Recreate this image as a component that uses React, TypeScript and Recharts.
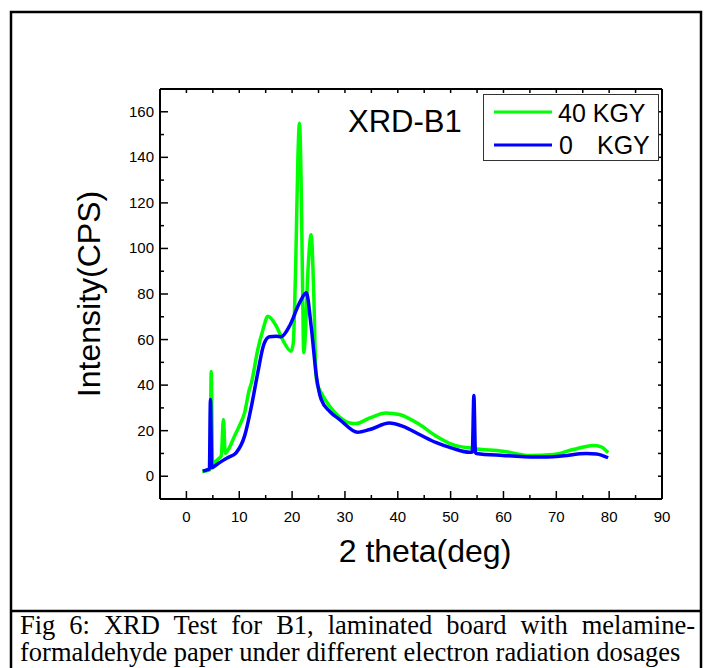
import { LineChart, Line, XAxis, YAxis } from "recharts";

// values (2 theta in deg, intensity in CPS)
const greenX = [3.0, 4.0, 4.45, 4.7, 4.95, 5.3, 6.0, 6.6, 7.0, 7.35, 8.0, 9.1, 10.0, 11.0, 11.9, 12.3, 13.5, 14.5, 15.4, 17.0, 18.2, 19.8, 20.2, 20.7, 21.1, 21.4, 21.7, 22.0, 22.2, 22.5, 23.0, 23.6, 24.1, 24.5, 24.8, 25.2, 27.1, 29.0, 30.9, 32.1, 34.7, 37.8, 40.3, 44.1, 47.3, 50.4, 54.2, 59.9, 65.0, 69.4, 73.2, 77.0, 78.5, 79.8];
const greenY = [2.2, 2.5, 3, 46, 5, 6, 7.5, 9, 24.9, 10, 12, 17.6, 22, 27.8, 38, 41, 55.6, 64.4, 70.2, 65.9, 60, 54.9, 58, 95, 140, 155, 130, 80, 54.2, 62, 90, 106, 80, 45, 40, 38, 30.7, 26, 23.4, 23.1, 25.6, 27.8, 27.1, 22.7, 17.6, 13.9, 12.2, 11, 9.1, 9.5, 11.7, 13.5, 12.9, 10.3];

const blueX = [3.1, 4.0, 4.35, 4.55, 4.8, 5.3, 6.5, 7.8, 9.4, 11.0, 12.3, 13.5, 14.6, 15.7, 17.0, 17.9, 19.5, 21.4, 22.7, 23.6, 24.6, 25.5, 27.1, 29.0, 32.4, 34.7, 38.4, 41.0, 44.1, 47.3, 50.4, 53.6, 54.1, 54.4, 54.7, 54.9, 59.9, 66.2, 70.6, 75.7, 77.6, 79.8];
const blueY = [2.2, 2.9, 3.2, 33.7, 3.7, 4.4, 6.3, 8.1, 10.3, 17.6, 30.7, 45.4, 57.5, 61.2, 61.5, 61.2, 65.9, 76.1, 80.5, 65.9, 43.9, 33.7, 28.5, 24.9, 19.3, 20.5, 23.4, 21.9, 18.3, 14.7, 12.2, 10.5, 10.6, 35.4, 10.3, 10, 9.1, 8.4, 8.8, 10, 9.8, 8.1];

const xTicks = [0, 5, 10, 15, 20, 25, 30, 35, 40, 45, 50, 55, 60, 65, 70, 75, 80, 85, 90];
const yTicks = [0, 10, 20, 30, 40, 50, 60, 70, 80, 90, 100, 110, 120, 130, 140, 150, 160];

const greenData = greenX.map((x, i) => ({ x, y: greenY[i] }));
const blueData = blueX.map((x, i) => ({ x, y: blueY[i] }));

const SANS = "'Liberation Sans', Arial, sans-serif";

const BottomTick = (props: any) => {
  const { x, y, payload } = props;
  const major = payload.value % 10 === 0;
  return (
    <g>
      <line x1={x} x2={x} y1={y} y2={y - (major ? 8 : 4)} stroke="#000" strokeWidth={1.5} />
      {major && (
        <text x={x} y={y + 23} textAnchor="middle" fontSize={15} fontFamily={SANS} fill="#000">
          {payload.value}
        </text>
      )}
    </g>
  );
};

const LeftTick = (props: any) => {
  const { x, y, payload } = props;
  const major = payload.value % 20 === 0;
  return (
    <g>
      <line x1={x} x2={x + (major ? 8 : 4)} y1={y} y2={y} stroke="#000" strokeWidth={1.5} />
      {major && (
        <text x={x - 6} y={y + 5} textAnchor="end" fontSize={15} fontFamily={SANS} fill="#000">
          {payload.value}
        </text>
      )}
    </g>
  );
};

const TopTick = (props: any) => {
  const { x, y } = props;
  return <line x1={x} x2={x} y1={y} y2={y + 4} stroke="#000" strokeWidth={1.5} />;
};

const RightTick = (props: any) => {
  const { x, y } = props;
  return <line x1={x} x2={x - 4} y1={y} y2={y} stroke="#000" strokeWidth={1.5} />;
};

export default function App() {
  return (
    <div style={{ position: "absolute", left: 0, top: 0, width: 712, height: 668, background: "#fff", overflow: "hidden" }}>
      <LineChart width={712} height={560} margin={{ top: 79, left: 100, right: 40, bottom: 31 }}>
        <XAxis
          xAxisId="b"
          dataKey="x"
          type="number"
          domain={[-5, 90]}
          ticks={xTicks}
          interval={0}
          height={30}
          tickSize={0}
          tickMargin={0}
          tickLine={false}
          axisLine={{ stroke: "#000", strokeWidth: 2 }}
          tick={<BottomTick />}
          allowDataOverflow
        />
        <XAxis
          xAxisId="t"
          dataKey="x"
          orientation="top"
          type="number"
          domain={[-5, 90]}
          ticks={xTicks}
          interval={0}
          height={10}
          tickSize={0}
          tickMargin={0}
          tickLine={false}
          axisLine={{ stroke: "#000", strokeWidth: 2 }}
          tick={<TopTick />}
          allowDataOverflow
        />
        <YAxis
          yAxisId="l"
          type="number"
          domain={[-10, 170]}
          ticks={yTicks}
          interval={0}
          width={60}
          tickSize={0}
          tickMargin={0}
          tickLine={false}
          axisLine={{ stroke: "#000", strokeWidth: 2 }}
          tick={<LeftTick />}
          allowDataOverflow
        />
        <YAxis
          yAxisId="r"
          orientation="right"
          type="number"
          domain={[-10, 170]}
          ticks={yTicks}
          interval={0}
          width={10}
          tickSize={0}
          tickMargin={0}
          tickLine={false}
          axisLine={{ stroke: "#000", strokeWidth: 2 }}
          tick={<RightTick />}
          allowDataOverflow
        />
        {/* invisible series so the top and right frame axes are active */}
        <Line
          xAxisId="t"
          yAxisId="r"
          data={greenData}
          dataKey="y"
          stroke="none"
          dot={false}
          activeDot={false}
          legendType="none"
          isAnimationActive={false}
        />
        <Line
          xAxisId="b"
          yAxisId="l"
          data={greenData}
          dataKey="y"
          type="monotone"
          stroke="#00ff00"
          strokeWidth={3.5}
          dot={false}
          isAnimationActive={false}
        />
        <Line
          xAxisId="b"
          yAxisId="l"
          data={blueData}
          dataKey="y"
          type="monotone"
          stroke="#0000ff"
          strokeWidth={3.5}
          dot={false}
          isAnimationActive={false}
        />
      </LineChart>

      <svg width={712} height={668} style={{ position: "absolute", left: 0, top: 0, pointerEvents: "none" }}>
        <rect x={11} y={12} width={690} height={670} fill="none" stroke="#000" strokeWidth={2.5} />
        <line x1={11} x2={701} y1={611} y2={611} stroke="#000" strokeWidth={2.5} />
        <text x={348} y={132} fontSize={31} fontFamily={SANS} fill="#000">XRD-B1</text>
        <rect x={483.5} y={94.5} width={175} height={66} fill="#fff" stroke="#333" strokeWidth={1} />
        <line x1={494} x2={552} y1={112} y2={112} stroke="#00ff00" strokeWidth={3} />
        <line x1={494} x2={552} y1={145} y2={145} stroke="#0000ff" strokeWidth={3} />
        <text x={558} y={122} fontSize={25} fontFamily={SANS} fill="#000">40 KGY</text>
        <text x={559} y={154} fontSize={25} fontFamily={SANS} fill="#000">0</text>
        <text x={597} y={154} fontSize={25} fontFamily={SANS} fill="#000">KGY</text>
        <text x={425} y={562} textAnchor="middle" fontSize={32} fontFamily={SANS} fill="#000">2 theta(deg)</text>
        <text transform="translate(100,294) rotate(-90)" textAnchor="middle" fontSize={32} fontFamily={SANS} fill="#000">
          Intensity(CPS)
        </text>
      </svg>

      <div
        style={{
          position: "absolute",
          left: 20,
          top: 612,
          width: 675,
          fontFamily: "'Liberation Serif', 'Times New Roman', serif",
          fontSize: 26.5,
          lineHeight: "27px",
          color: "#000",
        }}
      >
        <div style={{ textAlign: "justify", textAlignLast: "justify" }}>
          Fig 6: XRD Test for B1, laminated board with melamine-
        </div>
        <div style={{ whiteSpace: "nowrap" }}>formaldehyde paper under different electron radiation dosages</div>
      </div>
    </div>
  );
}
